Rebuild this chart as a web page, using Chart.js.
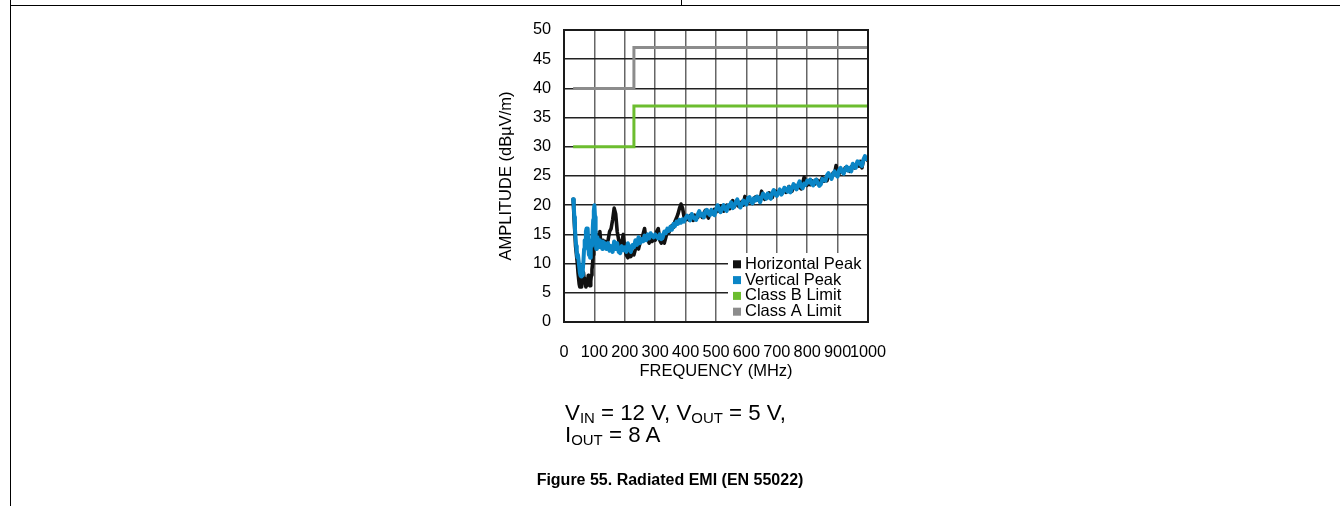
<!DOCTYPE html>
<html>
<head>
<meta charset="utf-8">
<script src="https://cdn.jsdelivr.net/npm/chart.js@4/dist/chart.umd.min.js"></script>
<style>
html,body{margin:0;padding:0;background:#fff;}
#wrap{position:relative;width:1340px;height:506px;overflow:hidden;font-family:Arial,"Liberation Sans",sans-serif;color:#000;}
#chart{position:absolute;left:0;top:0;}
.rule{position:absolute;background:#000;}
.cap{position:absolute;white-space:nowrap;}
.sub{font-size:0.67em;position:relative;top:0.2em;}
</style>
</head>
<body>
<div id="wrap">
  <canvas id="chart" width="1340" height="506"></canvas>
  <div class="rule" style="left:10px;top:5px;width:1330px;height:1px;"></div>
  <div class="rule" style="left:10px;top:0;width:1px;height:506px;"></div>
  <div class="rule" style="left:681px;top:0;width:1px;height:5px;"></div>
  <div class="cap" style="left:565px;top:402px;font-size:22.3px;line-height:22px;">V<span class="sub">IN</span> = 12 V, V<span class="sub">OUT</span> = 5 V,</div>
  <div class="cap" style="left:565px;top:424px;font-size:22.3px;line-height:22px;">I<span class="sub">OUT</span> = 8 A</div>
  <div class="cap" style="left:470px;width:400px;text-align:center;top:471px;font-size:16px;line-height:18px;font-weight:bold;">Figure 55. Radiated EMI (EN 55022)</div>
</div>
<script>
// ---- data ----
const freqMHz = [
  30,32,34,36,38,40,42,44,46,48,50,52,54,56,58,60,62,64,66,68,70,72,74,76,78,80,82,84,86,88,90,92,94,96,98,100,102,104,106,108,110,112,114,116,118,120,122,124,126,128,130,
  135,140,145,150,155,160,165,170,175,180,185,190,195,200,205,210,215,220,225,230,235,240,245,250,255,260,265,270,275,280,285,290,295,300,
  305,310,315,320,325,330,335,340,345,350,355,360,365,370,375,380,385,390,395,400,
  405,410,415,420,425,430,435,440,445,450,455,460,465,470,475,480,485,490,495,500,
  505,510,515,520,525,530,535,540,545,550,555,560,565,570,575,580,585,590,595,600,
  605,610,615,620,625,630,635,640,645,650,655,660,665,670,675,680,685,690,695,700,
  705,710,715,720,725,730,735,740,745,750,755,760,765,770,775,780,785,790,795,800,
  805,810,815,820,825,830,835,840,845,850,855,860,865,870,875,880,885,890,895,900,
  905,910,915,920,925,930,935,940,945,950,955,960,965,970,975,980,985,990,995,1000
];
const horizontalPeak = [
  21,19,17,15,13,12,11,10,8.5,7.5,6.5,6,6.5,6,7,8,8.5,8.5,7.5,7,6.5,6,6.5,6.3,7,8,7,6.5,6.2,7,8,9,10,11.5,13,14,15,15.5,14,15,14,14.5,13.5,14.5,15.5,14.2,13.5,14,13,14,13.5,
  13.8,13.5,14,15.5,16,17.5,19.5,18.5,15.5,14,13,13.5,15,12.5,11.5,11,12,11.2,11.8,11.5,12.5,13,12.5,13.5,14,15,16,14,14.5,13.5,14.2,13.8,14.5,14,
  15.5,16,14,13.5,13.8,13.5,14.5,15.5,15.3,16,16.5,16.2,17.2,17.8,18.5,19.5,20.2,19.5,18,17.5,
  17.8,17.5,18.2,18.1,17.4,18.3,18.1,17.9,18.7,18.4,17.9,18.6,19.1,18.4,17.8,18.9,18.8,18.5,19.3,18.8,
  19.4,19.0,19.8,19.3,19.0,19.7,20.0,19.5,19.4,20.2,20.8,19.7,20.1,20.6,19.8,20.2,20.6,20.0,21.5,20.7,
  20.4,21.0,20.8,20.3,21.2,21.4,20.9,21.3,20.7,22.4,21.6,21.0,21.6,21.3,22.1,21.7,21.3,22.1,22.4,21.7,
  22.1,22.5,21.9,22.4,22.8,22.2,22.6,23.2,22.7,22.4,23.1,23.4,22.8,23.3,23.1,22.8,23.8,24.8,24.1,23.4,
  24.0,23.5,24.2,23.8,23.6,24.4,24.2,23.6,24.2,24.7,24.1,24.6,24.2,25.0,24.9,24.7,25.5,25.4,26.8,25.7,
  25.4,26.0,25.9,25.5,26.4,26.0,26.4,25.8,26.5,26.9,26.4,26.8,27.3,26.7,27.5,26.4,27.7,28.0,27.9,27.6
];
const verticalPeak = [
  21,20,18,16,14.5,13,12,11,11.5,10.5,9.5,8.5,8,7.8,8.5,8,9,10.5,12.5,14,13,15.5,16,15,16,13,11.5,12,11,12.5,14,13,15.5,17.5,19,20,18,14.5,12.5,13,14.5,13.5,12.8,14,13.2,13.8,12.8,13.5,12.5,13.8,13,
  13.5,12.5,13.5,12.2,13,12,13.8,12.5,13.5,12,11.8,13,12.3,12.8,12,13.5,12.5,12,13.2,12.8,14,13.2,14.5,13.5,14.2,13.8,14.8,14,15,14.3,15.2,14.8,14.5,15,
  14.6,14.3,15,14.2,14.5,15.5,15.2,16,15.6,16.3,15.8,16.8,16.4,17.2,16.8,17.5,17,17.6,17.2,17.8,
  18.2,18.0,17.4,18.5,18.0,17.7,17.5,18.4,19.0,18.2,18.5,17.9,18.9,19.2,18.6,18.3,19.2,18.6,18.3,19.2,
  20.0,19.5,18.8,19.4,20.0,19.3,19.0,20.0,19.8,20.5,19.5,19.8,20.5,21.0,20.3,19.6,20.1,20.8,20.5,20.1,
  21.2,21.4,20.7,20.3,21.2,20.8,21.5,21.3,20.5,21.3,22.0,21.6,21.1,22.0,21.4,21.1,22.1,22.6,21.9,21.6,
  22.2,22.7,21.8,22.2,23.0,22.7,22.3,23.1,22.2,22.9,23.6,23.1,22.7,23.5,24.1,23.2,22.9,23.7,23.5,24.2,
  23.9,24.4,23.6,23.4,24.2,24.4,23.7,23.3,23.6,24.5,24.3,24.2,25.1,25.5,25.0,24.5,25.3,25.8,25.2,24.9,
  26.0,26.4,25.7,25.4,26.2,26.6,25.9,26.4,25.8,27.1,26.7,26.4,27.5,27.4,27.0,26.7,27.8,28.4,27.9,28.2
];
const limitFreqMHz = [30, 230, 230, 1000];
const classBLimit = [30, 30, 37, 37];
const classALimit = [40, 40, 47, 47];
const seriesNames = ['Horizontal Peak', 'Vertical Peak', 'Class B Limit', 'Class A Limit'];
const seriesColors = ['#111111', '#0a85c6', '#6cbd2f', '#8c8c8c'];

const toPts = (xs, ys) => xs.map((x, i) => ({x: x, y: ys[i]}));

const legendPlugin = {
  id: 'boxLegendAndFrame',
  afterDatasetsDraw(chart) {
    const ctx = chart.ctx, a = chart.chartArea;
    ctx.save();
    ctx.fillStyle = '#ffffff';
    ctx.fillRect(a.right - 140, a.bottom - 69, 140, 69);
    ctx.font = '16.5px Arial, "Liberation Sans", sans-serif';
    ctx.textBaseline = 'middle';
    ctx.textAlign = 'left';
    chart.data.datasets.forEach((ds, i) => {
      const cy = a.bottom - 58.2 + i * 15.8;
      ctx.fillStyle = ds.borderColor;
      ctx.fillRect(a.right - 135, cy - 3.5, 8, 8);
      ctx.fillStyle = '#000';
      ctx.fillText(ds.label, a.right - 123, cy + 0.5);
    });
    ctx.strokeStyle = '#1a1a1a';
    ctx.lineWidth = 2;
    ctx.strokeRect(a.left, a.top, a.right - a.left, a.bottom - a.top);
    ctx.restore();
  }
};

Chart.defaults.font.family = 'Arial, "Liberation Sans", sans-serif';
Chart.defaults.color = '#000';

const lineStyle = {pointRadius: 0, tension: 0, borderJoinStyle: 'round', borderCapStyle: 'round'};

new Chart(document.getElementById('chart'), {
  type: 'line',
  data: {
    datasets: [
      Object.assign({label: seriesNames[0], data: toPts(freqMHz, horizontalPeak), borderColor: seriesColors[0], backgroundColor: seriesColors[0], borderWidth: 3.6, order: 2}, lineStyle),
      Object.assign({label: seriesNames[1], data: toPts(freqMHz, verticalPeak), borderColor: seriesColors[1], backgroundColor: seriesColors[1], borderWidth: 4, order: 1}, lineStyle),
      Object.assign({label: seriesNames[2], data: toPts(limitFreqMHz, classBLimit), borderColor: seriesColors[2], backgroundColor: seriesColors[2], borderWidth: 3, order: 3}, lineStyle, {borderJoinStyle: 'miter', borderCapStyle: 'butt'}),
      Object.assign({label: seriesNames[3], data: toPts(limitFreqMHz, classALimit), borderColor: seriesColors[3], backgroundColor: seriesColors[3], borderWidth: 3, order: 3}, lineStyle, {borderJoinStyle: 'miter', borderCapStyle: 'butt'})
    ]
  },
  options: {
    responsive: false,
    maintainAspectRatio: false,
    animation: false,
    layout: {padding: {left: 497, right: 472, top: 30, bottom: 125}},
    plugins: {legend: {display: false}, tooltip: {enabled: false}},
    scales: {
      x: {
        type: 'linear', min: 0, max: 1000,
        ticks: {stepSize: 100, autoSkip: false, maxRotation: 0, minRotation: 0, padding: 21, font: {size: 16.3}, color: '#000', callback: v => String(v)},
        grid: {color: '#666', lineWidth: 1.5, drawTicks: false},
        border: {display: false},
        title: {display: true, text: 'FREQUENCY (MHz)', font: {size: 16.5}, color: '#000', padding: 0},
        afterFit(s) { s.height = 59; }
      },
      y: {
        type: 'linear', min: 0, max: 50,
        ticks: {stepSize: 5, padding: 13, font: {size: 16.3}, color: '#000', callback: v => String(v)},
        grid: {color: '#222', lineWidth: 1.5, drawTicks: false},
        border: {display: false},
        title: {display: true, text: 'AMPLITUDE (dBµV/m)', font: {size: 16.5}, color: '#000', padding: 0},
        afterFit(s) { s.width = 67; }
      }
    }
  },
  plugins: [legendPlugin]
});
</script>
</body>
</html>
